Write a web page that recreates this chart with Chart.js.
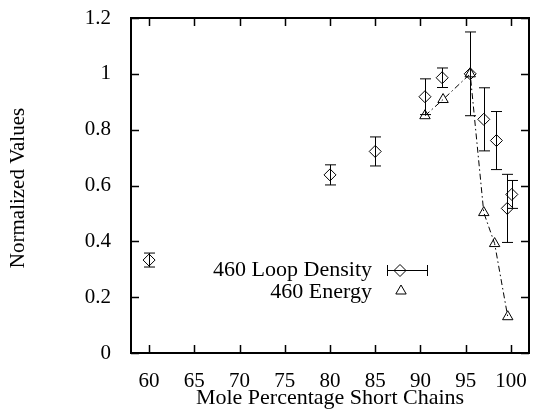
<!DOCTYPE html>
<html>
<head>
<meta charset="utf-8">
<script src="https://cdn.jsdelivr.net/npm/chart.js@4/dist/chart.umd.min.js"></script>
<style>
  html, body { margin: 0; padding: 0; background: #fff; }
  #wrap { width: 536px; height: 411px; }
</style>
</head>
<body>
<div id="wrap"><canvas id="c" width="536" height="411"></canvas></div>
<script>
// ---- data ----
const loopX   = [60, 80, 85, 90.5, 92.4, 95.5, 97, 98.4, 99.6, 100.1];
const loopY   = [0.333, 0.638, 0.722, 0.918, 0.986, 1.0, 0.837, 0.761, 0.518, 0.568];
const loopErr = [0.025, 0.036, 0.052, 0.064, 0.035, 0.15, 0.113, 0.104, 0.122, 0.05];

const energyX = [90.5, 92.5, 95.5, 97, 98.2, 99.65];
const energyY = [0.85, 0.908, 1.0, 0.503, 0.392, 0.13];

const xTicks = [60, 65, 70, 75, 80, 85, 90, 95, 100];
const yTicks = [0, 0.2, 0.4, 0.6, 0.8, 1, 1.2];
const yTickLabels = ['0', '0.2', '0.4', '0.6', '0.8', '1', '1.2'];

const seriesNames = ['460 Loop Density', '460 Energy'];
const xTitle = 'Mole Percentage Short Chains';
const yTitle = 'Normalized Values';

const FONT = 'Liberation Serif';

const loopData = loopX.map((x, i) => ({ x: x, y: loopY[i] }));
const energyData = energyX.map((x, i) => ({ x: x, y: energyY[i] }));

const deco = {
  id: 'deco',
  afterDatasetsDraw(chart) {
    const ctx = chart.ctx;
    const xs = chart.scales.x, ys = chart.scales.y;
    const a = chart.chartArea;
    ctx.save();
    ctx.strokeStyle = '#000';
    ctx.lineWidth = 1;
    // error bars
    const cap = 5.5;
    loopX.forEach((x, i) => {
      const px = Math.round(xs.getPixelForValue(x)) + 0.5;
      const pt = ys.getPixelForValue(loopY[i] + loopErr[i]);
      const pb = ys.getPixelForValue(loopY[i] - loopErr[i]);
      ctx.beginPath();
      ctx.moveTo(px, pt); ctx.lineTo(px, pb);
      ctx.moveTo(px - cap, pt); ctx.lineTo(px + cap, pt);
      ctx.moveTo(px - cap, pb); ctx.lineTo(px + cap, pb);
      ctx.stroke();
    });
    // ticks (inward, mirrored)
    const tl = 8;
    ctx.lineWidth = 1.5;
    ctx.beginPath();
    xTicks.forEach(v => {
      const px = Math.round(xs.getPixelForValue(v)) + 0.5;
      ctx.moveTo(px, a.bottom); ctx.lineTo(px, a.bottom - tl);
      ctx.moveTo(px, a.top); ctx.lineTo(px, a.top + tl);
    });
    yTicks.forEach(v => {
      const py = Math.round(ys.getPixelForValue(v)) + 0.5;
      ctx.moveTo(a.left, py); ctx.lineTo(a.left + tl, py);
      ctx.moveTo(a.right, py); ctx.lineTo(a.right - tl, py);
    });
    ctx.stroke();
    // frame
    ctx.lineWidth = 2;
    ctx.strokeRect(a.left, a.top, a.right - a.left, a.bottom - a.top);

    // y title
    ctx.save();
    ctx.font = '21px "' + FONT + '"';
    ctx.fillStyle = '#000';
    ctx.textAlign = 'center';
    ctx.textBaseline = 'middle';
    ctx.translate(18, 188);
    ctx.rotate(-Math.PI / 2);
    ctx.fillText(yTitle, 0, 0);
    ctx.restore();

    // legend
    ctx.font = '22px "' + FONT + '"';
    ctx.fillStyle = '#000';
    ctx.textAlign = 'right';
    ctx.textBaseline = 'middle';
    const lx = 372, ly1 = 270, ly2 = 292;
    ctx.fillText(seriesNames[0], lx, ly1);
    ctx.fillText(seriesNames[1], lx, ly2);
    ctx.lineWidth = 1;
    ctx.beginPath();
    ctx.moveTo(387, ly1 + 0.5); ctx.lineTo(427, ly1 + 0.5);
    ctx.moveTo(387.5, ly1 - 5); ctx.lineTo(387.5, ly1 + 6);
    ctx.moveTo(427.5, ly1 - 5); ctx.lineTo(427.5, ly1 + 6);
    ctx.stroke();
    ctx.fillStyle = 'rgba(0,0,0,0)';
    Chart.helpers.drawPoint(ctx, { pointStyle: 'rectRot', radius: 6, borderWidth: 1, rotation: 0 }, 400, ly1 + 0.5);
    Chart.helpers.drawPoint(ctx, { pointStyle: 'triangle', radius: 6, borderWidth: 1, rotation: 0 }, 401, ly2 - 1);
    ctx.restore();
  }
};

new Chart(document.getElementById('c'), {
  type: 'scatter',
  data: {
    datasets: [
      {
        label: seriesNames[0],
        data: loopData,
        showLine: false,
        pointStyle: 'rectRot',
        pointRadius: 6,
        pointBorderWidth: 1,
        borderColor: '#000',
        backgroundColor: 'rgba(0,0,0,0)',
        order: 1
      },
      {
        label: seriesNames[1],
        data: energyData,
        showLine: true,
        borderDash: [6, 3, 1.5, 3],
        borderWidth: 1,
        pointStyle: 'triangle',
        pointRadius: 6,
        pointBorderWidth: 1,
        pointBorderColor: '#000',
        pointBackgroundColor: 'rgba(0,0,0,0)',
        borderColor: '#000',
        backgroundColor: 'rgba(0,0,0,0)',
        order: 2
      }
    ]
  },
  options: {
    responsive: false,
    devicePixelRatio: 1,
    animation: false,
    events: [],
    layout: { padding: { left: 0, right: 7, top: 18, bottom: 0 } },
    plugins: {
      legend: { display: false },
      tooltip: { enabled: false }
    },
    scales: {
      x: {
        type: 'linear',
        min: 58, max: 102,
        grid: { display: false, drawTicks: false },
        border: { display: false },
        afterBuildTicks(s) { s.ticks = xTicks.map(v => ({ value: v })); },
        afterFit(s) { s.height = 58; s.paddingLeft = 0; s.paddingRight = 0; },
        ticks: {
          color: '#000',
          padding: 16,
          maxRotation: 0,
          autoSkip: false,
          font: { family: FONT, size: 21 },
          callback: (v) => String(v)
        },
        title: {
          display: true,
          text: xTitle,
          color: '#000',
          font: { family: FONT, size: 22 },
          padding: { top: 0, bottom: 0 }
        }
      },
      y: {
        type: 'linear',
        min: 0, max: 1.2,
        grid: { display: false, drawTicks: false },
        border: { display: false },
        afterBuildTicks(s) { s.ticks = yTicks.map(v => ({ value: v })); },
        afterFit(s) { s.width = 131; s.paddingTop = 0; s.paddingBottom = 0; },
        ticks: {
          color: '#000',
          padding: 20,
          autoSkip: false,
          font: { family: FONT, size: 21 },
          callback: (v) => { const i = yTicks.indexOf(v); return i >= 0 ? yTickLabels[i] : ''; }
        },
        title: { display: false }
      }
    }
  },
  plugins: [deco]
});
</script>
</body>
</html>
